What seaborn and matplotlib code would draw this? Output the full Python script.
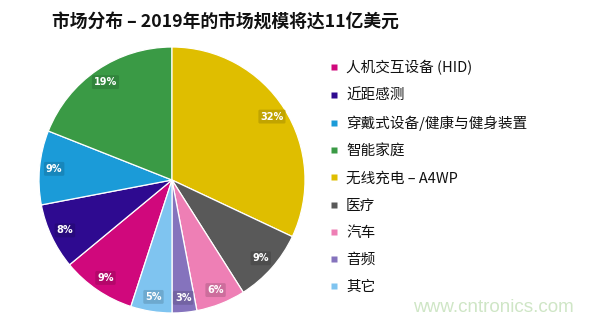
import matplotlib
matplotlib.use("Agg")
import matplotlib.pyplot as plt
import seaborn as sns
from matplotlib.lines import Line2D
from matplotlib.colors import to_rgb

categories = ["人机交互设备 (HID)", "近距感测", "穿戴式设备/健康与健身装置", "智能家庭",
              "无线充电 – A4WP", "医疗", "汽车", "音频", "其它"]
shares = [9, 8, 9, 19, 32, 9, 6, 3, 5]
slice_colors = ["#D0087C", "#2E0A90", "#1B9BD8", "#3A9A45", "#DFBE00",
                "#595959", "#EE7FB5", "#8573BD", "#7FC4F0"]
title_text = "市场分布 – 2019年的市场规模将达11亿美元"
watermark = "www.cntronics.com"

sns.set_theme(style="white")
plt.rcParams["font.family"] = ["Noto Sans CJK SC", "DejaVu Sans"]

palette = sns.color_palette(slice_colors)

W, H = 597, 323
fig = plt.figure(figsize=(W / 100, H / 100), dpi=100)
fig.patch.set_facecolor("white")

# pie axes: centre (172,180) px, radius 133 px
cx, cy, r = 172, 180, 133
ax = fig.add_axes([(cx - r) / W, (H - cy - r) / H, 2 * r / W, 2 * r / H])
wedges, texts, autotexts = ax.pie(
    shares, colors=palette, startangle=252, counterclock=False,
    autopct="%d%%", pctdistance=0.89,
    wedgeprops=dict(edgecolor="white", linewidth=0.9),
    textprops=dict(color="white", fontsize=7, fontweight="bold"),
)
for t, c in zip(autotexts, palette):
    rgb = to_rgb(c)
    dark = tuple(v * 0.85 for v in rgb)
    t.set_bbox(dict(boxstyle="round,pad=0.2,rounding_size=0.15", facecolor=dark,
                    edgecolor="none", alpha=0.9))
    t.set_family(["DejaVu Sans"])
ax.set_xlim(-1.0, 1.0)
ax.set_ylim(-1.0, 1.0)
ax.set_aspect("equal")
ax.axis("off")

# title
fig.text(52 / W, 1 - 22 / H, title_text, fontsize=12.8, fontweight="bold",
         va="center", ha="left", color="#111111")

# legend
handles = [Line2D([0], [0], marker="s", linestyle="none", markersize=4.5,
                  markerfacecolor=c, markeredgecolor="none") for c in palette]
leg = fig.legend(handles, categories, loc="upper left",
                 bbox_to_anchor=(322 / W, 1 - 53 / H), frameon=False,
                 fontsize=10.5, handlelength=0.6, handletextpad=0.55,
                 labelspacing=0.9, borderpad=0)
for txt in leg.get_texts():
    txt.set_color("#111111")

# watermark
fig.text(413 / W, 1 - 307 / H, watermark, fontsize=13.6, color="#cfe6c6",
         va="center", ha="left", family=["Liberation Sans"])

fig.savefig("out.png", dpi=100, facecolor="white")
